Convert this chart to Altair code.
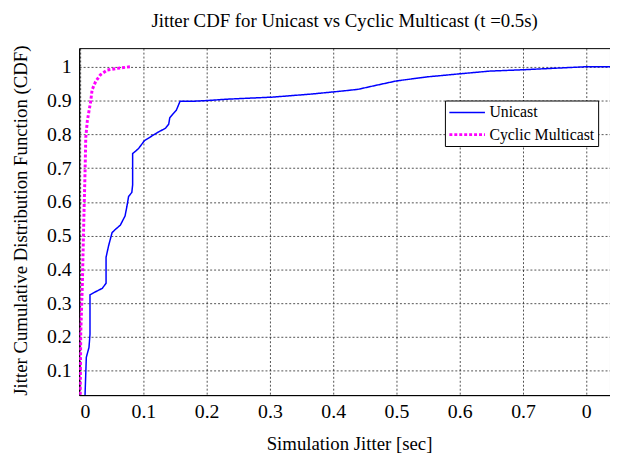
import altair as alt
import pandas as pd

# Unicast CDF (jitter sec, cdf)
uni_x = [0.0075, 0.0078, 0.0089, 0.0098, 0.014, 0.0156, 0.0156, 0.0245, 0.035, 0.041, 0.041, 0.045,
         0.0505, 0.056, 0.0635, 0.071, 0.074, 0.0766, 0.0817, 0.083, 0.083, 0.092, 0.096, 0.1016,
         0.110, 0.123, 0.135, 0.140, 0.1417, 0.147, 0.152, 0.158, 0.181, 0.2016, 0.233, 0.28,
         0.304, 0.365, 0.414, 0.439, 0.463, 0.5, 0.549, 0.6, 0.647, 0.7, 0.733, 0.8, 0.84]
uni_y = [0.0, 0.03, 0.09, 0.14, 0.169, 0.208, 0.325, 0.334, 0.344, 0.359, 0.436, 0.47,
         0.509, 0.519, 0.531, 0.558, 0.587, 0.616, 0.628, 0.65, 0.743, 0.757, 0.767, 0.781,
         0.791, 0.806, 0.818, 0.830, 0.849, 0.861, 0.871, 0.898, 0.898, 0.9, 0.904, 0.908,
         0.91, 0.919, 0.928, 0.933, 0.943, 0.958, 0.97, 0.979, 0.987, 0.991, 0.994, 1.0, 1.0]

# Cyclic Multicast CDF
mc_x = [0.0, 0.0005, 0.001, 0.0036, 0.006, 0.0078, 0.0085, 0.0089, 0.0114, 0.0167, 0.019,
        0.0245, 0.032, 0.0427, 0.058, 0.079]
mc_y = [0.0, 0.1, 0.21, 0.36, 0.56, 0.69, 0.75, 0.79, 0.84, 0.898, 0.932,
        0.956, 0.976, 0.99, 0.995, 1.0]

series_names = ["Unicast", "Cyclic Multicast"]
x_ticks = [0, 0.1, 0.2, 0.3, 0.4, 0.5, 0.6, 0.7, 0.8]
y_ticks = [0.1, 0.2, 0.3, 0.4, 0.5, 0.6, 0.7, 0.8, 0.9, 1.0]

rows = []
for i, (x, y) in enumerate(zip(uni_x, uni_y)):
    rows.append({"series": "Unicast", "x": x, "y": y, "i": i})
for i, (x, y) in enumerate(zip(mc_x, mc_y)):
    rows.append({"series": "Cyclic Multicast", "x": x, "y": y, "i": i})
df = pd.DataFrame(rows)

FONT = "Liberation Serif"
leg = dict(title=None, orient="none", legendX=370, legendY=53)

chart = alt.Chart(df).mark_line(clip=True).encode(
    x=alt.X("x:Q",
            scale=alt.Scale(domain=[-0.0015, 0.8375], nice=False, zero=False),
            axis=alt.Axis(values=x_ticks, title="Simulation Jitter [sec]",
                          labelExpr="datum.value >= 0.79 ? '0' : (datum.value == 0 ? '0' : format(datum.value, '.1f'))",
                          titleX=273, titleY=55, titleBaseline="alphabetic", titleAlign="center",
                          labelPadding=7)),
    y=alt.Y("y:Q",
            scale=alt.Scale(domain=[0.028, 1.055], nice=False, zero=False),
            axis=alt.Axis(values=y_ticks, title="Jitter Cumulative Distribution Function (CDF)",
                          labelExpr="datum.value == 1 ? '1' : format(datum.value, '.1f')",
                          titleX=-59, titleY=174, titleAngle=270, titleBaseline="middle",
                          titleAlign="center", labelPadding=8)),
    color=alt.Color("series:N",
                    scale=alt.Scale(domain=series_names, range=["#0000ff", "#ff00ff"]),
                    legend=alt.Legend(**leg)),
    strokeDash=alt.StrokeDash("series:N",
                              scale=alt.Scale(domain=series_names, range=[[1, 0], [3, 2]]),
                              legend=alt.Legend(**leg)),
    strokeWidth=alt.StrokeWidth("series:N",
                                scale=alt.Scale(domain=series_names, range=[1.5, 3]),
                                legend=alt.Legend(**leg)),
    order="i:Q",
).properties(
    width=537,
    height=351,
    background="white",
    title=alt.TitleParams("Jitter CDF for Unicast vs Cyclic Multicast (t =0.5s)",
                          font=FONT, fontSize=19, fontWeight="normal", color="black",
                          anchor="middle", offset=14),
    autosize=alt.AutoSizeParams(type="none"),
    padding={"left": 72, "top": 38, "right": 0, "bottom": 60},
).configure_view(
    stroke="black", strokeWidth=1
).configure_axis(
    labelFont=FONT, labelFontSize=20, labelColor="black",
    titleFont=FONT, titleFontSize=19, titleFontWeight="normal", titleColor="black",
    grid=True, gridColor="black", gridDash=[2, 2], gridWidth=0.8, gridOpacity=0.85,
    ticks=False, domain=True, domainColor="black",
).configure_legend(
    labelFont=FONT, labelFontSize=16, labelColor="black",
    strokeColor="black", fillColor="white", padding=3,
    symbolType="M-1,0H3.5", symbolSize=256, rowPadding=5, labelOffset=23,
)

chart.save("out.html", embed_options={"renderer": "svg", "actions": False})
